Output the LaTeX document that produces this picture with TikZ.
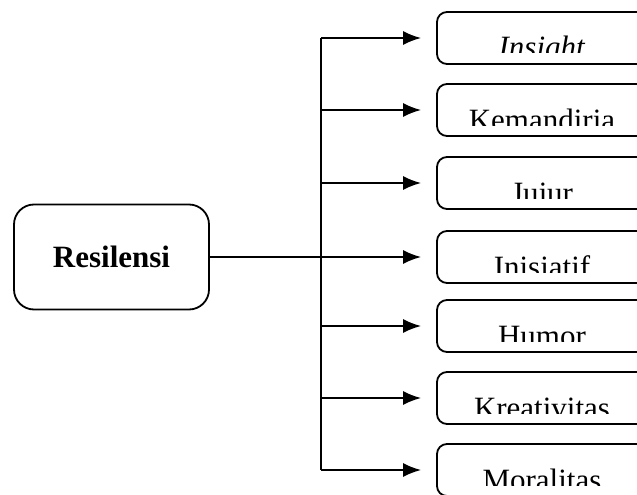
\documentclass[tikz,border=0pt]{standalone}
\usepackage{fontspec}
\setmainfont{Liberation Serif}
\usetikzlibrary{arrows.meta}
\newcommand{\boxfont}{\fontsize{31}{36}\selectfont}
\tikzset{
  trait/.style={draw,rounded corners=10pt,minimum width=210pt,minimum height=52pt,
    path picture={
      \clip (path picture bounding box.north west) rectangle ([yshift=-15pt]path picture bounding box.east);
      \node[font=\boxfont,anchor=base] at ([yshift=-20pt]path picture bounding box.center) {#1};}},
  root/.style={draw,rounded corners=20pt,minimum width=195pt,minimum height=105pt,font=\boxfont\bfseries}
}

\begin{document}
\begin{tikzpicture}[->,>={Latex[length=18pt,width=14pt]},line width=1.8pt,x=1pt,y=-1pt]
    \useasboundingbox (0,0) rectangle (637,495);
    \clip (0,0) rectangle (637,495);
    \node[root] (res) at (111.5,257) {Resilensi};
    \node[trait={\textit{Insight}}] (ins) at (542,38) {};
    \node[trait={Kemandiria}] (kem) at (542,110) {};
    \node[trait={Jujur}] (juj) at (542,183) {};
    \node[trait={Inisiatif}] (ini) at (542,257) {};
    \node[trait={Humor}] (hum) at (542,326) {};
    \node[trait={Kreativitas}] (kre) at (542,398) {};
    \node[trait={Moralitas}] (mor) at (542,470) {};
    \coordinate (bus) at (321,257);
    \draw[-] (bus |- ins) -- (bus |- mor);
    \draw[shorten >=15pt] (res) -- (ini);
    \foreach \n in {ins,kem,juj,hum,kre,mor}
      \draw[shorten >=15pt] (bus |- \n) -- (\n);
  \end{tikzpicture}
\end{document}
